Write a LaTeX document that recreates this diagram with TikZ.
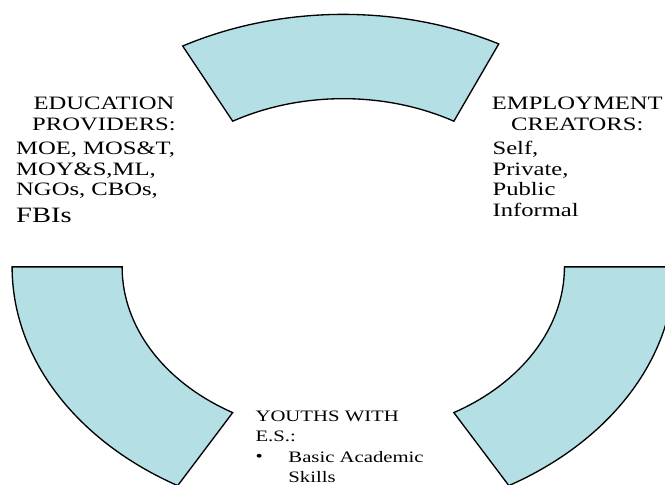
\documentclass[tikz,border=0pt]{standalone}
\usepackage{fontspec}
\setmainfont{Liberation Serif}
\definecolor{ringfill}{RGB}{180,223,228}
\begin{document}
\begin{tikzpicture}[scale=1.0,
  ringpart/.style={draw=black, line width=1pt, fill=ringfill},
  sidetext/.style={font=\fontsize{14.25}{15.5}\selectfont, inner sep=0pt, xscale=1.3},
  basetext/.style={font=\fontsize{12}{15}\selectfont, inner sep=0pt, xscale=1.3}]
\useasboundingbox (0,0) rectangle (17.59,12.81);
\clip (0,0) rectangle (17.59,12.81);

\begin{scope}[shift={(9.08,5.75)}]
% top part
\draw[ringpart] (62:8.76 and 6.68) arc[start angle=62, end angle=119, x radius=8.76, y radius=6.68]
  -- (120:5.85 and 4.45) arc[start angle=120, end angle=60, x radius=5.85, y radius=4.45] -- cycle;
% lower left part
\draw[ringpart] (180:8.76 and 6.68) arc[start angle=180, end angle=240, x radius=8.76, y radius=6.68]
  -- (240:5.85 and 4.45) arc[start angle=240, end angle=180, x radius=5.85, y radius=4.45] -- cycle;
% lower right part
\draw[ringpart] (300:8.76 and 6.68) arc[start angle=300, end angle=360, x radius=8.76, y radius=6.68]
  -- (0:5.85 and 4.45) arc[start angle=360, end angle=300, x radius=5.85, y radius=4.45] -- cycle;
\end{scope}

% base anchor sits on the last line
\node[sidetext, align=center, anchor=base] (eduhead) at (2.75,9.37) {EDUCATION\\PROVIDERS:};
\node[sidetext, align=left, anchor=base west] (edulist) at (0.42,6.93)
  {MOE, MOS\&T,\\MOY\&S,ML,\\NGOs, CBOs,\\[4.5pt]{\fontsize{16.5}{19}\selectfont FBIs}};

\node[sidetext, align=center, anchor=base] (emphead) at (15.27,9.37) {EMPLOYMENT\\CREATORS:};
\node[sidetext, align=left, anchor=base west] (emplist) at (13.02,7.09) {Self,\\Private,\\Public\\Informal};

\node[basetext, align=left, anchor=base west] (youths) at (6.75,1.14) {YOUTHS WITH\\E.S.:};
\node[basetext, anchor=base west] (bullet) at (6.75,0.59) {\textbullet};
\node[basetext, align=left, anchor=base west] (skills) at (7.62,0.06) {Basic Academic\\Skills};
\end{tikzpicture}
\end{document}
